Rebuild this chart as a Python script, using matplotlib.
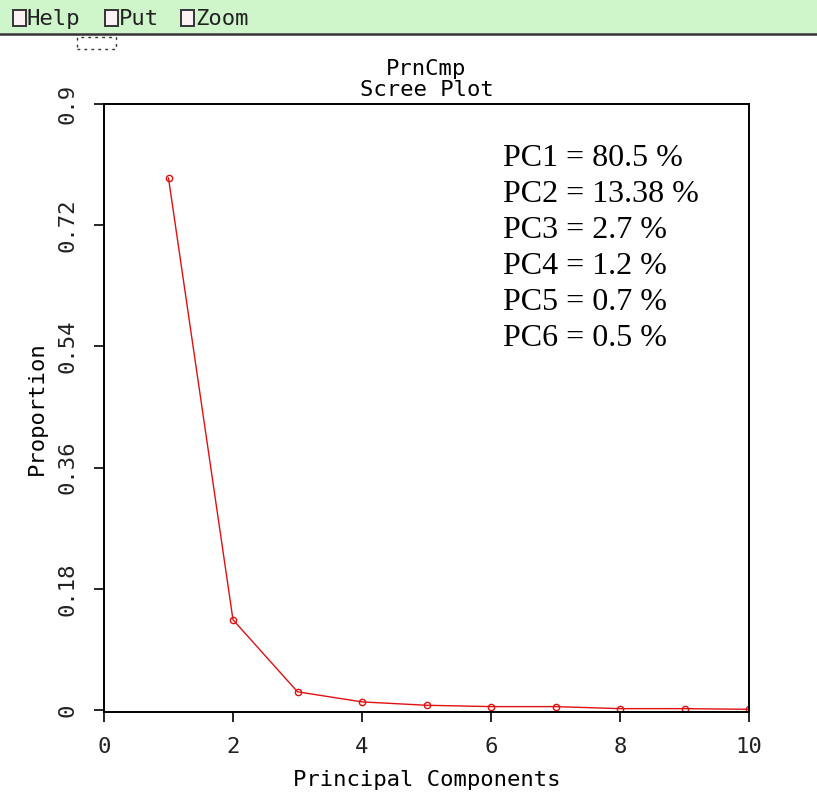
import matplotlib.pyplot as plt
from matplotlib.patches import Rectangle

OUTPUT_PATH = "out.png"

# ---------- data ----------
components = [1, 2, 3, 4, 5, 6, 7, 8, 9, 10]
proportion = [0.79, 0.134, 0.027, 0.012, 0.007, 0.005, 0.005, 0.002, 0.002, 0.001]

pc_labels = ["PC1 = 80.5 %", "PC2 = 13.38 %", "PC3 = 2.7 %",
             "PC4 = 1.2 %", "PC5 = 0.7 %", "PC6 = 0.5 %"]

menu_items = ["Help", "Put", "Zoom"]

x_ticks = [0, 2, 4, 6, 8, 10]
y_ticks = [0, 0.18, 0.36, 0.54, 0.72, 0.9]
y_tick_labels = ["0", "0.18", "0.36", "0.54", "0.72", "0.9"]

MONO = ["DejaVu Sans Mono", "DejaVu Sans"]
W, H = 817, 798
MONO_SIZE = 16


def px(x, y):
    # pixel (top-left origin) -> figure fraction
    return x / W, 1 - y / H


fig = plt.figure(figsize=(W / 100, H / 100), dpi=100)

# ---------- menu bar ----------
fig.patches.append(Rectangle(px(0, 33), 1, 33 / H, transform=fig.transFigure,
                             facecolor="#cff5cb", edgecolor="none"))
fig.add_artist(plt.Line2D([0, 1], [1 - 34 / H, 1 - 34 / H], transform=fig.transFigure,
                          color="#333333", lw=1.8))
box_x = [13, 105, 181]
for bx, item in zip(box_x, menu_items):
    fig.patches.append(Rectangle(px(bx, 26), 13 / W, 16 / H, transform=fig.transFigure,
                                 facecolor="#fbf3f3", edgecolor="#333333", lw=1.4))
    fx, fy = px(bx + 14, 19)
    fig.text(fx, fy, item, family=MONO, fontsize=MONO_SIZE, va="center", ha="left",
             color="#222222")
fig.patches.append(Rectangle(px(77, 49), 39 / W, 12 / H, transform=fig.transFigure,
                             facecolor="none", edgecolor="#333333", lw=1, ls=(0, (2, 3))))

# ---------- plot ----------
ax = fig.add_axes([104 / W, 1 - 712 / H, 645 / W, 608 / H])
ax.plot(components, proportion, color="#e01010", lw=1.0,
        marker="o", markersize=4.5, markerfacecolor="none", markeredgewidth=1.0)

ax.set_xlim(0, 10)
ax.set_ylim(-0.003, 0.9)
ax.set_xticks(x_ticks)
ax.set_yticks(y_ticks)
ax.set_yticklabels(y_tick_labels, rotation=90, va="center")

for lbl in ax.get_xticklabels() + ax.get_yticklabels():
    lbl.set_family(MONO)
    lbl.set_fontsize(MONO_SIZE)
    lbl.set_color("#222222")

ax.tick_params(direction="out", length=7, width=1.2)
ax.tick_params(axis="x", pad=11)
ax.tick_params(axis="y", pad=12)
for s in ax.spines.values():
    s.set_linewidth(1.4)

ax.set_xlabel("Principal Components", family=MONO, fontsize=MONO_SIZE, labelpad=9)
ax.set_ylabel("Proportion", family=MONO, fontsize=MONO_SIZE)
ax.yaxis.set_label_coords(-57 / 645, 0.5)
ax.set_title("PrnCmp\nScree Plot", family=MONO, fontsize=MONO_SIZE, pad=6, linespacing=1.05)

# ---------- variance text ----------
for i, txt in enumerate(pc_labels):
    tx, ty = px(503, 158 + 36.2 * i)
    fig.text(tx, ty, txt, family="Liberation Serif", fontsize=23, va="center", ha="left")

plt.savefig(OUTPUT_PATH, dpi=100)
plt.close()
print("Saved:", OUTPUT_PATH)
